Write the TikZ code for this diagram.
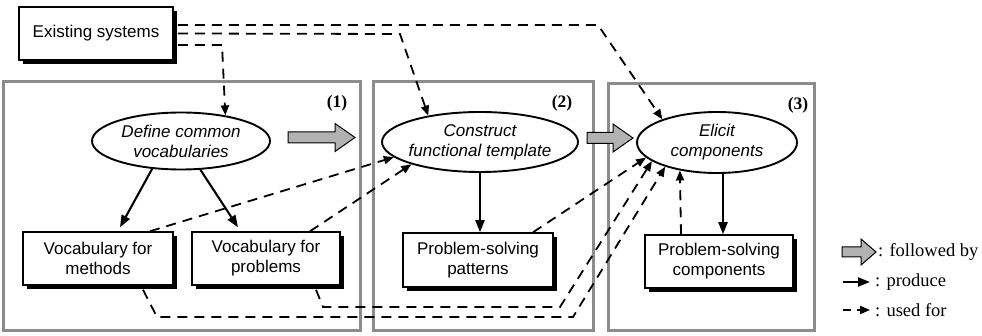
\documentclass[tikz,border=0pt]{standalone}
\usepackage{fontspec}
\setmainfont{Liberation Serif}
\setsansfont{Liberation Sans}
\usetikzlibrary{arrows.meta,shapes.geometric,shadows}

% block arrow glyph: #1 total length, #2 head length, #3 head half-width, #4 shaft half-width
\tikzset{pics/blockarrow/.style n args={4}{code={
  \draw[fill=gray!60, line width=1pt, line join=miter]
    (0,-#4) -- ({#1-#2},-#4) -- ({#1-#2},-#3) -- (#1,0) -- ({#1-#2},#3) -- ({#1-#2},#4) -- (0,#4) -- cycle;}}}

\begin{document}
\begin{tikzpicture}[x=1pt,y=-1pt,
  panel/.style={draw=black!45, line width=3pt, inner sep=0pt},
  box/.style={draw, line width=1.5pt, fill=white, align=center, inner sep=0pt,
    font=\sffamily\fontsize{17}{20}\selectfont,
    drop shadow={shadow xshift=4pt, shadow yshift=-4pt, fill=black, opacity=1}},
  proc/.style={ellipse, draw, line width=1.9pt, fill=white, align=center,
    inner xsep=-10pt, inner ysep=0pt,
    font=\sffamily\itshape\fontsize{17}{20}\selectfont},
  produce/.style={-{Triangle[length=12pt,width=9pt]}, line width=2.1pt},
  usedfor/.style={-{Triangle[length=10pt,width=8pt]}, line width=1.8pt, dash pattern=on 10pt off 7pt},
  tag/.style={font=\bfseries\fontsize{17.5}{20}\selectfont, inner sep=0pt},
  legend/.style={font=\fontsize{18.5}{20}\selectfont, anchor=west, inner sep=0pt},
]
\fill[white] (0,0) rectangle (982,336);
\useasboundingbox (0,0) rectangle (982,336);

% the three phase panels
\node[panel, minimum width=357pt, minimum height=249pt] (p1) at (181.5,206.5) {};
\node[panel, minimum width=220pt, minimum height=249pt] (p2) at (483,206.5) {};
\node[panel, minimum width=206pt, minimum height=247pt] (p3) at (711,207.5) {};
\node[tag] (t1) at (337,103) {(1)};
\node[tag] (t2) at (562,103) {(2)};
\node[tag] (t3) at (798,105) {(3)};

% phase-to-phase block arrows
\pic at (288,137.5) {blockarrow={67}{20}{14}{5.5}};
\pic at (587,138) {blockarrow={46}{20}{14}{5.5}};

% nodes
\node[box, minimum width=154pt, minimum height=53pt] (exist) at (96,33.5) {Existing systems};
\node[proc, minimum width=178pt, minimum height=57pt] (define) at (181,141) {Define common\\vocabularies};
\node[proc, minimum width=196pt, minimum height=60pt] (construct) at (480,142) {Construct\\functional template};
\node[proc, minimum width=160pt, minimum height=61pt] (elicit) at (717,142.5) {Elicit\\components};
\node[box, minimum width=150pt, minimum height=53pt] (methods) at (98,258.5) {Vocabulary for\\methods};
\node[box, minimum width=148pt, minimum height=53pt] (problems) at (266,258.5) {Vocabulary for\\problems};
\node[box, minimum width=150pt, minimum height=54pt] (patterns) at (478,260) {Problem-solving\\patterns};
\node[box, minimum width=148pt, minimum height=53pt] (components) at (719,261.5) {Problem-solving\\components};

% produce
\draw[produce] (define.224) -- ([xshift=22pt,yshift=4pt]methods.north);
\draw[produce] (define.304) -- ([xshift=-28pt,yshift=4pt]problems.north);
\draw[produce] (construct.south) -- (construct.south |- patterns.north);
\draw[produce] ([xshift=6pt]elicit.south) -- ([xshift=6pt]elicit.south |- components.north);

% used for
\draw[usedfor] ([xshift=4pt,yshift=8.5pt]exist.east) -- (598,25) -- (elicit.157);
\draw[usedfor] ([xshift=4pt]exist.east) -- (400,34) -- (construct.153);
\draw[usedfor] ([xshift=4pt,yshift=-11.5pt]exist.east) -- (222,45) -- (define.30);
\draw[usedfor] ([xshift=52pt]methods.north) -- (construct.190);
\draw[usedfor] ([xshift=44pt]problems.north) -- (construct.198);
\draw[usedfor] ([xshift=55pt]patterns.north) -- (elicit.192.5);
\draw[usedfor] ([xshift=45pt,yshift=-4pt]methods.south) -- (157,317) -- (573,317) -- (elicit.205);
\draw[usedfor] ([xshift=50pt,yshift=-4pt]problems.south) -- (323,307) -- (560,307) -- (elicit.196);
\draw[usedfor] ([xshift=-38pt]components.north) -- (elicit.217);

% legend
\pic at (842,252) {blockarrow={34}{15}{13}{5}};
\node[legend] (lf) at (878,252) {: followed by};
\coordinate (pa) at (843,282);
\coordinate (pb) at (870,282);
\draw[produce] (pa) -- (pb);
\node[legend] (lp) at (875,282) {: produce};
\coordinate (ua) at (843,310);
\coordinate (ub) at (870,310);
\draw[usedfor, dash pattern=on 8pt off 6pt] (ua) -- (ub);
\node[legend] (lu) at (875,310) {: used for};
\end{tikzpicture}
\end{document}
